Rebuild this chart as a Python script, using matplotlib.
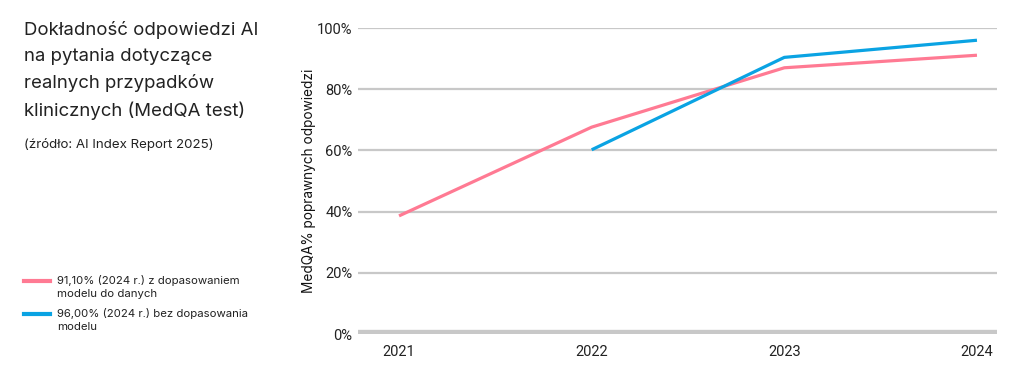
import matplotlib
matplotlib.use("Agg")
import matplotlib.pyplot as plt

years = [2021, 2022, 2023, 2024]
finetuned = [38.6, 67.6, 87.0, 91.1]
blue_years = [2022, 2023, 2024]
no_finetune = [60.2, 90.4, 96.0]
yticks = [0, 20, 40, 60, 80, 100]
ytick_labels = ["0%", "20%", "40%", "60%", "80%", "100%"]

title = "Dokładność odpowiedzi AI\nna pytania dotyczące\nrealnych przypadków\nklinicznych (MedQA test)"
source = "(źródło: AI Index Report 2025)"
legend_labels = ["91,10% (2024 r.) z dopasowaniem\nmodelu do danych",
                 "96,00% (2024 r.) bez dopasowania\nmodelu"]
ylabel = "MedQA% poprawnych odpowiedzi"

PINK = "#ff7a93"
BLUE = "#0aa3e3"
GRID = "#c8c8c8"
TXT = "#222222"

plt.rcParams['font.family'] = ['Inter', 'DejaVu Sans']

fig = plt.figure(figsize=(10.24, 3.79), dpi=100)
ax = fig.add_axes([358/1024, 1-334/379, (997-358)/1024, (334-28)/379])

ax.plot(years, finetuned, color=PINK, lw=2.3, solid_capstyle='butt', zorder=3)
ax.plot(blue_years, no_finetune, color=BLUE, lw=2.3, solid_capstyle='butt', zorder=3)

ax.set_xlim(2021 - 0.213, 2024 + 0.104)
ax.set_ylim(0, 100)
for y in yticks[1:]:
    ax.axhline(y, color=GRID, lw=1.6, zorder=1)
ax.axhline(0, color=GRID, lw=6, zorder=1)

ax.set_yticks(yticks)
ax.set_yticklabels(ytick_labels, fontfamily='Roboto', fontsize=10.5, color=TXT)
ax.set_xticks(years)
ax.set_xticklabels([str(y) for y in years], fontfamily='Roboto', fontsize=10.5, color=TXT)
ax.tick_params(axis='both', length=0)
ax.tick_params(axis='y', pad=4)
ax.tick_params(axis='x', pad=8)
for s in ax.spines.values():
    s.set_visible(False)
ax.set_ylabel(ylabel, fontsize=9.8, color='#111111')
ax.yaxis.set_label_coords(-0.065, 0.5)

fig.text(24/1024, 1-21/379, title, fontsize=13.4, color=TXT, va='top', ha='left',
         linespacing=1.66)
fig.text(24/1024, 1-145/379, source, fontsize=9.6, color=TXT, va='center', ha='left')

for i, (lab, col) in enumerate(zip(legend_labels, [PINK, BLUE])):
    yy = 1 - (281 + 33*i)/379
    fig.add_artist(plt.Line2D([24/1024, 50/1024], [yy, yy], color=col, lw=3, transform=fig.transFigure))
    fig.text(57/1024, yy + 6/379, lab, fontsize=8.2, color=TXT, va='top', ha='left', linespacing=1.35)

fig.savefig("out.png", dpi=100, facecolor='white')
